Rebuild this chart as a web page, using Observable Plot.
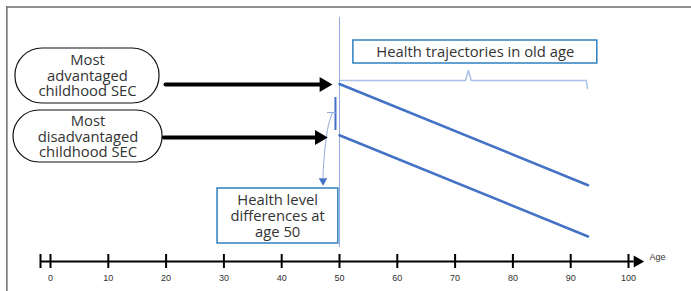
<!DOCTYPE html>
<html>
<head>
<meta charset="utf-8">
<script src="https://cdn.jsdelivr.net/npm/d3@7"></script>
<script src="https://cdn.jsdelivr.net/npm/@observablehq/plot@0.6"></script>
<style>
  body { margin: 0; background: #fff; }
</style>
</head>
<body>
<div id="chart"></div>
<script>
// ---- data ----
const trajAges = [50, 93];
const advantagedHealth = [71, 30.5];
const disadvantagedHealth = [50.5, 10];
const tickAges = [0, 10, 20, 30, 40, 50, 60, 70, 80, 90, 100];
const tickLabels = ["0", "10", "20", "30", "40", "50", "60", "70", "80", "90", "100"];
const groupLabels = ["Most\nadvantaged\nchildhood SEC", "Most\ndisadvantaged\nchildhood SEC"];
const trajLabel = "Health trajectories in old age";
const diffLabel = "Health level\ndifferences at\nage 50";
const axisLabel = "Age";

const adv = trajAges.map((a, i) => ({age: a, h: advantagedHealth[i]}));
const dis = trajAges.map((a, i) => ({age: a, h: disadvantagedHealth[i]}));

const blue = "#4472c4";
const light = "#8faadc";
const boxStroke = "#2e80c0";
const txt = "#333333";
const font = "Open Sans";

const tri = (x, y, rot, r, fill) => Plot.dot([{x, y}], {x: "x", y: "y", symbol: "triangle", rotate: rot, r, fill, stroke: null});

const chart = Plot.plot({
  width: 691,
  height: 291,
  margin: 0,
  style: {fontFamily: font, background: "#fff"},
  x: {domain: [0, 100], range: [50, 628], axis: null},
  y: {domain: [0, 100], range: [261, 11], axis: null},
  marks: [
    // outer frame (top & left edges)
    Plot.ruleY([101.8], {x1: -7.6, x2: 120, stroke: "#6b6b6b", strokeWidth: 1.5}),
    Plot.ruleX([-7.55], {y1: 101.8, y2: -15, stroke: "#6b6b6b", strokeWidth: 1.5}),
    // age-50 vertical line
    Plot.ruleX([50], {y1: 5.6, y2: 97.6, stroke: light, strokeWidth: 1}),
    // bracket over trajectories
    Plot.line([[50.2, 72.4], [71.8, 72.4], [72.3, 76.4], [72.8, 72.4], [92.7, 72.4], [92.9, 69.2]],
      {stroke: "#a9c1e8", strokeWidth: 1.5}),
    // trajectories
    Plot.line(adv, {x: "age", y: "h", stroke: blue, strokeWidth: 2.5}),
    Plot.line(dis, {x: "age", y: "h", stroke: blue, strokeWidth: 2.5}),
    // trajectory label box
    Plot.rect([{}], {x1: 52.4, x2: 94.6, y1: 79.2, y2: 88.4, fill: "white", stroke: boxStroke, strokeWidth: 1.5}),
    Plot.text([trajLabel], {x: 73.5, y: 83.8, text: d => d, fontSize: 14.8, fill: txt}),
    // health difference label box
    Plot.rect([{}], {x1: 28.9, x2: 49.8, y1: 7.2, y2: 29.2, fill: "white", stroke: boxStroke, strokeWidth: 1.5}),
    Plot.text([diffLabel], {x: 39.3, y: 18.2, text: d => d, fontSize: 14.8, lineHeight: 1.07, fill: txt}),
    // level difference marker
    Plot.ruleX([49.3], {y1: 52.4, y2: 65.6, stroke: blue, strokeWidth: 2}),
    Plot.line([[47.9, 59.6], [49.3, 59.6]], {stroke: light, strokeWidth: 1}),
    Plot.line([[48.8, 59.6], [47.9, 52.4], [47.3, 40.4], [47.15, 33.6]], {stroke: light, strokeWidth: 1, curve: "natural"}),
    tri(47.15, 32.3, 180, 3.2, blue),
    // pills
    Plot.rect([{}], {x1: -6.06, x2: 18.86, y1: 63.2, y2: 85.2, rx: 27, fill: "white", stroke: "#111", strokeWidth: 1.2}),
    Plot.rect([{}], {x1: -6.4, x2: 19.4, y1: 39.6, y2: 60.4, rx: 26, fill: "white", stroke: "#111", strokeWidth: 1.2}),
    Plot.text([groupLabels[0]], {x: 6.4, y: 74.4, text: d => d, fontSize: 14.8, lineHeight: 1.07, fill: txt}),
    Plot.text([groupLabels[1]], {x: 6.5, y: 50.0, text: d => d, fontSize: 14.8, lineHeight: 1.07, fill: txt}),
    // black arrows
    Plot.line([[19.9, 70.8], [47, 70.8]], {stroke: "#000", strokeWidth: 4}),
    tri(47.3, 70.8, 90, 5.5, "#000"),
    Plot.line([[19.6, 49.6], [46.2, 49.6]], {stroke: "#000", strokeWidth: 4}),
    tri(46.5, 49.6, 90, 5.5, "#000"),
    // age axis
    Plot.ruleY([0], {x1: -1.73, x2: 101, stroke: "#000", strokeWidth: 2}),
    Plot.ruleX([-1.73], {y1: -2.8, y2: 2.8, stroke: "#000", strokeWidth: 2}),
    Plot.ruleX(tickAges, {x: d => d, y1: -2.8, y2: 2.8, stroke: "#000", strokeWidth: 2}),
    tri(101.5, 0, 90, 4.5, "#000"),
    Plot.text(tickAges, {x: d => d, y: -6.8, text: (d, i) => tickLabels[i], fontSize: 9, fontFamily: "Liberation Sans", fill: txt}),
    Plot.text([axisLabel], {x: 105, y: 1.6, text: d => d, fontSize: 9, fontFamily: "Liberation Sans", fill: txt})
  ]
});
document.getElementById("chart").append(chart);
</script>
</body>
</html>
